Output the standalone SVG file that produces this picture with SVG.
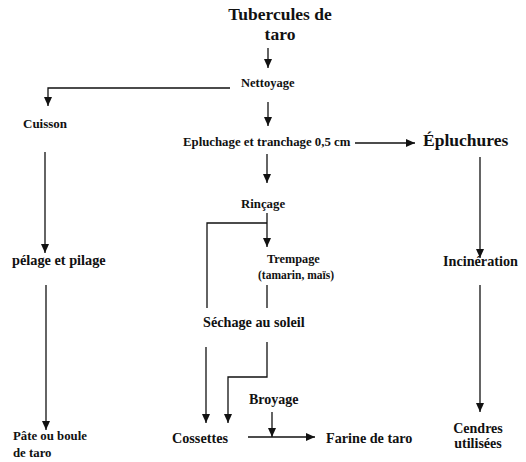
<svg xmlns="http://www.w3.org/2000/svg" width="526" height="462" viewBox="0 0 526 462">
<style>
text{font-family:"Liberation Serif","Times New Roman",serif;font-weight:bold;fill:#111}
.c{stroke:#111;stroke-width:1.3;fill:none}
.a{marker-end:url(#ah)}
</style>
<defs>
<marker id="ah" markerUnits="userSpaceOnUse" markerWidth="10" markerHeight="9" refX="9" refY="4.5" orient="auto">
<path d="M0,0.5 L9,4.5 L0,8.5 z" fill="#111"/>
</marker>
</defs>
<rect width="526" height="462" fill="#fff"/>
<g id="connectors">
<path class="c a" d="M268,48 V68"/>
<path class="c a" d="M230,88 H48 V106"/>
<path class="c a" d="M268,102 V126"/>
<path class="c a" d="M355,143 H415"/>
<path class="c a" d="M45,152 V253"/>
<path class="c a" d="M267,154 V183"/>
<path class="c a" d="M267,213 V247"/>
<path class="c" d="M267,223 H207 V308"/>
<path class="c a" d="M480,157 V258"/>
<path class="c a" d="M46,285 V430"/>
<path class="c" d="M267,285 V308"/>
<path class="c a" d="M206,347 V423"/>
<path class="c a" d="M267,342 V377 H228 V423"/>
<path class="c a" d="M272,412 V437"/>
<path class="c a" d="M248,437 H315"/>
<path class="c a" d="M480,285 V412"/>
</g>
<g id="tubercules"><text x="280" y="20" font-size="17.5" text-anchor="middle">Tubercules de</text><text x="280" y="40" font-size="17.5" text-anchor="middle">taro</text></g>
<g id="nettoyage"><text x="241" y="87" font-size="12.5">Nettoyage</text></g>
<g id="cuisson"><text x="23" y="128" font-size="13">Cuisson</text></g>
<g id="epluchage"><text x="183" y="146" font-size="12.8">Epluchage et tranchage 0,5 cm</text></g>
<g id="epluchures"><text x="423" y="146" font-size="17.5">Épluchures</text></g>
<g id="pelage"><text x="12" y="265" font-size="14.3">pélage et pilage</text></g>
<g id="rincage"><text x="241" y="208" font-size="12.8">Rinçage</text></g>
<g id="trempage"><text x="267" y="263" font-size="12.3">Trempage</text><text x="258" y="279" font-size="11.5">(tamarin, maïs)</text></g>
<g id="incineration"><text x="443" y="266" font-size="14.2">Incinération</text></g>
<g id="sechage"><text x="203" y="327" font-size="14.2">Séchage au soleil</text></g>
<g id="pate"><text x="13" y="440" font-size="12.8">Pâte ou boule</text><text x="13" y="457" font-size="12.8">de taro</text></g>
<g id="broyage"><text x="249" y="404" font-size="14">Broyage</text></g>
<g id="cossettes"><text x="172" y="443" font-size="14.2">Cossettes</text></g>
<g id="farine"><text x="326" y="443" font-size="14.2">Farine de taro</text></g>
<g id="cendres"><text x="478" y="433" font-size="14" text-anchor="middle">Cendres</text><text x="478" y="448" font-size="14" text-anchor="middle">utilisées</text></g>
</svg>
